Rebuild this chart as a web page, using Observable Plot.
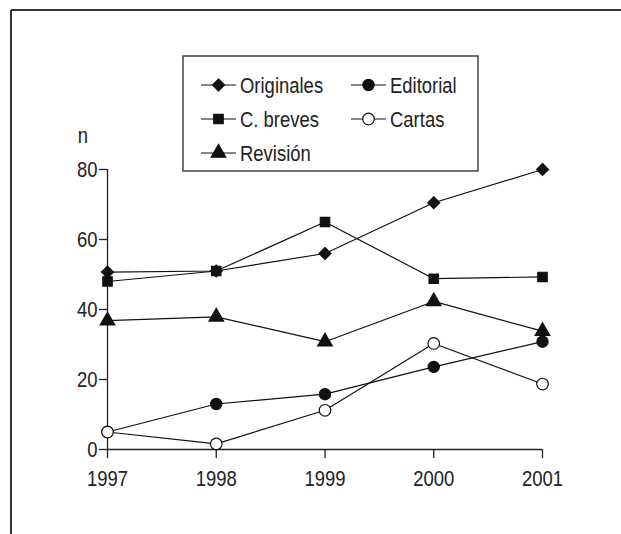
<!DOCTYPE html>
<html><head><meta charset="utf-8">
<script src="https://cdn.jsdelivr.net/npm/d3@7"></script>
<script src="https://cdn.jsdelivr.net/npm/@observablehq/plot@0.6"></script>
<style>
body{margin:0;background:#fff;}
#chart{position:relative;width:621px;height:534px;}
</style>
</head><body><div id="chart"></div><script>
const years = [1997, 1998, 1999, 2000, 2001];
const originales = [50.7, 51, 56, 70.5, 80];
const cbreves = [48, 51, 65, 48.8, 49.3];
const revision = [36.8, 37.9, 30.8, 42.3, 33.8];
const editorial = [5, 13, 15.8, 23.6, 30.8];
const cartas = [5, 1.6, 11.2, 30.3, 18.7];
const seriesNames = ["Originales", "C. breves", "Revisión", "Editorial", "Cartas"];
const seriesValues = [originales, cbreves, revision, editorial, cartas];
const symbols = ["diamond2", "square2", "triangle2", "circle", "circle"];
const fills = ["#111", "#111", "#111", "#111", "#fff"];
const radii = [5.4, 6, 7, 5.6, 5.8];
const yTicks = [0, 20, 40, 60, 80];
const yLabel = "n";

const FONT = "'Liberation Sans', Arial, sans-serif";
const SX = 0.84;

const data = [];
seriesNames.forEach((s, i) => years.forEach((y, j) => data.push({series: s, idx: i, year: y, value: seriesValues[i][j]})));

const plot = Plot.plot({
  width: 621, height: 534,
  marginLeft: 107, marginRight: 79, marginTop: 169, marginBottom: 85,
  style: {fontFamily: FONT, fontSize: "22px", color: "#222", background: "#fff", overflow: "visible"},
  x: {domain: [1997, 2001]},
  y: {domain: [0, 80]},
  marks: [
    Plot.axisX({ticks: years, tickFormat: d => String(d), tickSize: 9, tickPadding: 12, label: null, stroke: "#222", strokeWidth: 1.3, fill: "#222"}),
    Plot.axisY({ticks: yTicks, tickSize: 8, tickPadding: 2, label: null, stroke: "#222", strokeWidth: 1.3, fill: "#222"}),
    Plot.ruleY([0], {stroke: "#222", strokeWidth: 1.3}),
    Plot.ruleX([1997], {y1: 0, y2: 80, stroke: "#222", strokeWidth: 1.3}),
    Plot.line(data, {x: "year", y: "value", z: "series", stroke: "#111", strokeWidth: 1.2}),
    ...seriesNames.map((s, i) => Plot.dot(data.filter(d => d.idx === i), {
      x: "year", y: "value", symbol: symbols[i], r: radii[i], fill: fills[i], stroke: "#111", strokeWidth: 1.2
    }))
  ]
});
document.getElementById("chart").appendChild(plot);

const svg = d3.select(plot);
// condense tick label text horizontally around its anchor
svg.selectAll("text").each(function() {
  const t = this.getAttribute("transform") || "";
  this.setAttribute("transform", (t + ` scale(${SX},1)`).trim());
});
// frame (top and left only)
svg.append("line").attr("x1", 11).attr("x2", 621).attr("y1", 10).attr("y2", 10).attr("stroke", "#333").attr("stroke-width", 2);
svg.append("line").attr("x1", 11).attr("x2", 11).attr("y1", 10).attr("y2", 534).attr("stroke", "#333").attr("stroke-width", 2);

function addText(g, x, y, txt, anchor) {
  g.append("text").attr("transform", `translate(${x},${y}) scale(${SX},1)`).attr("dy", "0.35em")
    .attr("text-anchor", anchor)
    .style("font-family", FONT).style("font-size", "22px").attr("fill", "#222").text(txt);
}
addText(svg, 83, 135, yLabel, "middle");

// legend
const lg = svg.append("g");
lg.append("rect").attr("x", 183).attr("y", 56).attr("width", 295).attr("height", 115)
  .attr("fill", "#fff").attr("stroke", "#444").attr("stroke-width", 1.5);
const symMap = {diamond2: d3.symbolDiamond2, square2: d3.symbolSquare2, triangle2: d3.symbolTriangle2, circle: d3.symbolCircle};
const pos = [[201, 85], [201, 119], [201, 153], [351, 85], [351, 119]];
seriesNames.forEach((s, i) => {
  const [x0, y0] = pos[i];
  lg.append("line").attr("x1", x0).attr("x2", x0 + 35).attr("y1", y0).attr("y2", y0).attr("stroke", "#111").attr("stroke-width", 1.2);
  lg.append("path").attr("transform", `translate(${x0 + 17.5},${y0})`)
    .attr("d", d3.symbol(symMap[symbols[i]], radii[i] * radii[i] * Math.PI)())
    .attr("fill", fills[i]).attr("stroke", "#111").attr("stroke-width", 1.2);
  addText(lg, x0 + 39, y0, s, "start");
});
</script></body></html>
